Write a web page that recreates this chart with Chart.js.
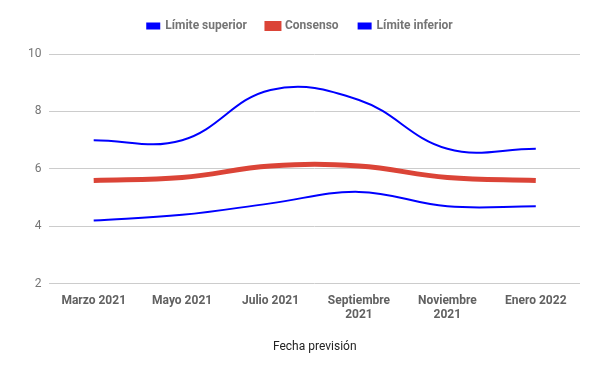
<!DOCTYPE html>
<html>
<head>
<meta charset="utf-8">
<script src="https://cdn.jsdelivr.net/npm/chart.js@4.4.1/dist/chart.umd.min.js"></script>
<style>
  html, body { margin: 0; padding: 0; background: #fff; }
  #wrap { width: 600px; height: 371px; position: relative; }
</style>
</head>
<body>
<div id="wrap"><canvas id="lineChart"></canvas></div>
<script>
// datos
const fechas = ['Marzo 2021', 'Mayo 2021', 'Julio 2021', ['Septiembre', '2021'], ['Noviembre', '2021'], 'Enero 2022'];
const limiteSuperior = [7.0, 7.0, 8.75, 8.4, 6.7, 6.7];
const consenso = [5.6, 5.7, 6.1, 6.1, 5.7, 5.6];
const limiteInferior = [4.2, 4.4, 4.8, 5.2, 4.7, 4.7];
const yTicks = [2, 4, 6, 8, 10];

Chart.defaults.font.family = 'Roboto, Arial, sans-serif';
Chart.defaults.animation = false;

// espacio extra debajo de la leyenda
const legendGap = {
    id: 'legendGap',
    beforeInit(chart) {
        const origFit = chart.legend.fit;
        chart.legend.fit = function () {
            origFit.call(this);
            this.height += 12;
        };
    }
};

const data = {
    labels: fechas,
    datasets: [{
        label: 'Límite superior',
        data: limiteSuperior,
        borderColor: '#0000ff',
        backgroundColor: '#0000ff',
        borderWidth: 2,
        pointRadius: 0,
        fill: false,
        tension: 0.4
    }, {
        label: 'Consenso',
        data: consenso,
        borderColor: '#db4437',
        backgroundColor: '#db4437',
        borderWidth: 5,
        pointRadius: 0,
        fill: false,
        tension: 0.4
    }, {
        label: 'Límite inferior',
        data: limiteInferior,
        borderColor: '#0000ff',
        backgroundColor: '#0000ff',
        borderWidth: 2,
        pointRadius: 0,
        fill: false,
        tension: 0.4
    }]
};

const config = {
    type: 'line',
    data: data,
    plugins: [legendGap],
    options: {
        responsive: true,
        maintainAspectRatio: false,
        layout: {
            padding: { left: 20, right: 20, top: 0, bottom: 13 }
        },
        plugins: {
            legend: {
                position: 'top',
                labels: {
                    boxWidth: 12,
                    boxHeight: 5,
                    padding: 20,
                    color: '#757575',
                    font: { size: 12, weight: 'bold' }
                }
            },
            tooltip: { enabled: false }
        },
        scales: {
            x: {
                offset: true,
                grid: { display: false },
                border: { display: false },
                ticks: {
                    autoSkip: false,
                    maxRotation: 0,
                    color: '#616161',
                    padding: 2,
                    font: { size: 12, weight: 'bold' }
                },
                title: {
                    display: true,
                    text: 'Fecha previsión',
                    color: '#222222',
                    padding: { top: 15 },
                    font: { size: 12 }
                }
            },
            y: {
                min: 2,
                max: 10,
                afterBuildTicks: function (axis) {
                    axis.ticks = yTicks.map(v => ({ value: v }));
                },
                grid: { color: '#cccccc', drawTicks: false },
                border: { display: false },
                ticks: {
                    color: '#757575',
                    padding: 8,
                    font: { size: 12 }
                }
            }
        }
    }
};

const lineChart = new Chart(document.getElementById('lineChart'), config);
</script>
</body>
</html>
